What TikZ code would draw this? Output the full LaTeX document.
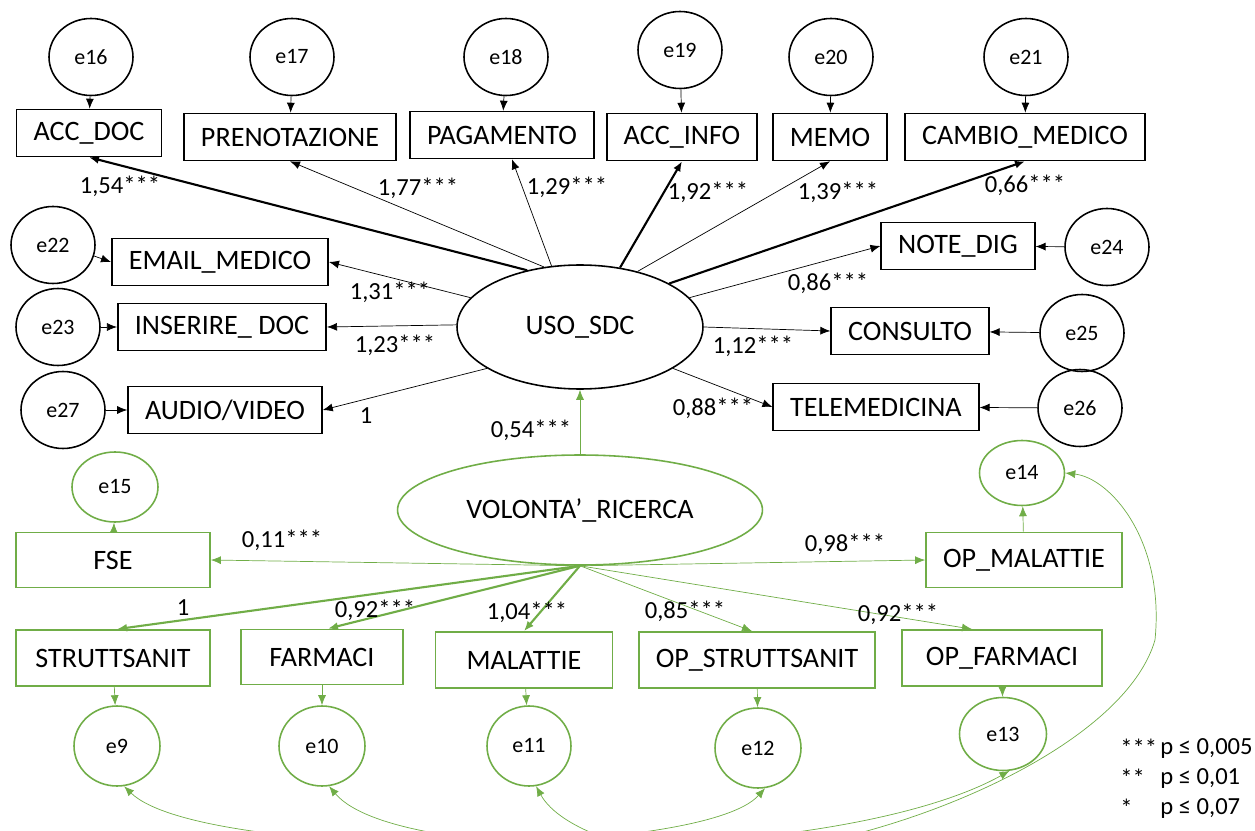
\documentclass[tikz,border=0pt]{standalone}
\usepackage{fontspec}
\setmainfont{Carlito}
\usetikzlibrary{arrows.meta,shapes.geometric}
\definecolor{grn}{RGB}{112,173,71}
\begin{document}
\begin{tikzpicture}[x=0.02cm,y=-0.02cm,
    >={Latex[length=2mm,width=1.6mm]}]
  \tikzstyle{var}=[draw,line width=0.9pt,inner xsep=0.34cm,minimum height=0.94cm,font=\fontsize{16}{18}\selectfont]
  \tikzstyle{err}=[draw,ellipse,line width=0.9pt,minimum width=1.68cm,minimum height=1.54cm,inner sep=0pt,font=\fontsize{12.5}{14}\selectfont]
  \tikzstyle{lat}=[draw,ellipse,line width=0.9pt,inner sep=0pt,font=\fontsize{16}{18}\selectfont]
  \tikzstyle{coef}=[font=\fontsize{14}{16}\selectfont,inner sep=0pt]
  \tikzstyle{loading}=[->,line width=0.4pt]
  \tikzstyle{loadingb}=[->,line width=1.2pt]
  \useasboundingbox (0,0) rectangle (1255,831);
  \clip (0,0) rectangle (1255,831);
  \node[lat,minimum width=4.92cm,minimum height=2.48cm] (uso) at (580,327) {USO\_SDC};
  \node[var] (accdoc) at (89,133) {ACC\_DOC};
  \node[var] (prenot) at (290,137) {PRENOTAZIONE};
  \node[var] (pagam) at (502,135) {PAGAMENTO};
  \node[var] (accinfo) at (682,137) {ACC\_INFO};
  \node[var] (memo) at (830,137) {MEMO};
  \node[var] (cambio) at (1025,137) {CAMBIO\_MEDICO};
  \node[var] (email) at (220,262) {EMAIL\_MEDICO};
  \node[var] (inser) at (222,327) {INSERIRE\_ DOC};
  \node[var] (audio) at (225,410) {AUDIO/VIDEO};
  \node[var] (notedig) at (958,246) {NOTE\_DIG};
  \node[var] (consulto) at (910,331) {CONSULTO};
  \node[var] (tele) at (876,407) {TELEMEDICINA};
  \node[err] (e16) at (91,57) {e16};
  \node[err] (e17) at (292,57) {e17};
  \node[err] (e18) at (506,57) {e18};
  \node[err] (e19) at (680,50) {e19};
  \node[err] (e20) at (831,57) {e20};
  \node[err] (e21) at (1026,57) {e21};
  \node[err] (e22) at (53,245) {e22};
  \node[err] (e23) at (58,327) {e23};
  \node[err] (e27) at (63,410) {e27};
  \node[err] (e24) at (1107,247) {e24};
  \node[err] (e25) at (1082,333) {e25};
  \node[err] (e26) at (1080,408) {e26};
  \draw[loading] (e16) -- (accdoc);
  \draw[loading] (e17) -- (prenot);
  \draw[loading] (e18) -- (pagam);
  \draw[loading] (e19) -- (accinfo);
  \draw[loading] (e20) -- (memo);
  \draw[loading] (e21) -- (cambio);
  \draw[loading] (e22.-15) -- (email.west);
  \draw[loading] (e23) -- (inser);
  \draw[loading] (e27) -- (audio);
  \draw[loading] (e24) -- (notedig);
  \draw[loading] (e25) -- (consulto);
  \draw[loading] (e26) -- (tele);
  \draw[loadingb] (uso.133) -- (accdoc.south);
  \draw[loading] (uso.121) -- (prenot.south);
  \draw[loading] (uso.115) -- ([xshift=0.2cm]pagam.south);
  \draw[loadingb] (uso.56) -- (accinfo.south);
  \draw[loading] (uso.44) -- (memo.south);
  \draw[loadingb] (uso.26) -- (cambio.south);
  \draw[loading] (uso.15) -- (notedig.west);
  \draw[loading] (uso.0) -- (consulto.west);
  \draw[loading] (uso.-24) -- (tele.west);
  \draw[loading] (uso.165) -- (email.east);
  \draw[loading] (uso.179) -- (inser.east);
  \draw[loading] (uso.204) -- (audio.east);
  \node[coef] (c1) at (120,186) {1,54***};
  \node[coef] (c2) at (418,188) {1,77***};
  \node[coef] (c3) at (567,187) {1,29***};
  \node[coef] (c4) at (708,192) {1,92***};
  \node[coef] (c5) at (838,192) {1,39***};
  \node[coef] (c6) at (1025,185) {0,66***};
  \node[coef] (c7) at (828,283) {0,86***};
  \node[coef] (c8) at (753,346) {1,12***};
  \node[coef] (c9) at (713,408) {0,88***};
  \node[coef] (c10) at (390,292) {1,31***};
  \node[coef] (c11) at (395,345) {1,23***};
  \node[coef] (c12) at (366,416) {1};
  \begin{scope}[draw=grn,color=grn]
    \node[lat,minimum width=7.3cm,minimum height=2.2cm,text=black] (volonta) at (580,510) {VOLONTA’\_RICERCA};
    \node[var,text=black,line width=1pt,minimum width=3.88cm,minimum height=1.1cm] (fse) at (113,560) {FSE};
    \node[var,text=black,line width=1pt,minimum width=3.82cm,minimum height=1.1cm] (opmal) at (1024,560) {OP\_MALATTIE};
    \node[var,text=black,line width=1pt,minimum width=3.88cm,minimum height=1.12cm] (strutt) at (113,658) {STRUTTSANIT};
    \node[var,text=black,line width=1pt,minimum width=3.24cm,minimum height=1.1cm] (farm) at (322,657) {FARMACI};
    \node[var,text=black,line width=1pt,minimum width=3.54cm,minimum height=1.12cm] (malat) at (524,660) {MALATTIE};
    \node[var,text=black,line width=1pt,minimum width=4.64cm,minimum height=1.12cm] (opstrutt) at (757,660) {OP\_STRUTTSANIT};
    \node[var,text=black,line width=1pt,minimum width=4.0cm,minimum height=1.12cm] (opfarm) at (1002,658) {OP\_FARMACI};
    \node[err,text=black,minimum width=1.72cm,minimum height=1.4cm] (e15) at (115,487) {e15};
    \node[err,text=black,minimum width=1.7cm,minimum height=1.3cm] (e14) at (1022,473) {e14};
    \node[err,text=black,minimum width=1.72cm,minimum height=1.6cm] (e9) at (117,746) {e9};
    \node[err,text=black,minimum width=1.72cm,minimum height=1.6cm] (e10) at (322,746) {e10};
    \node[err,text=black,minimum width=1.68cm,minimum height=1.6cm] (e11) at (529,746) {e11};
    \node[err,text=black,minimum width=1.72cm,minimum height=1.6cm] (e12) at (758,748) {e12};
    \node[err,text=black,minimum width=1.74cm,minimum height=1.46cm] (e13) at (1003,734) {e13};
    \draw[loading] (volonta) -- (uso);
    \draw[loading] (volonta.south) -- (fse.east);
    \draw[loading] (volonta.south) -- (opmal.west);
    \draw[loadingb] (volonta.south) -- ([xshift=0.08cm]strutt.north);
    \draw[loadingb] (volonta.south) -- ([xshift=0.12cm]farm.north);
    \draw[loadingb] (volonta.south) -- (malat.north);
    \draw[loading] (volonta.south) -- ([xshift=-0.1cm]opstrutt.north);
    \draw[loading] (volonta.south) -- ([xshift=-0.6cm]opfarm.north);
    \draw[loading] (fse) -- (e15);
    \draw[loading] (opmal) -- (e14);
    \draw[loading] (strutt) -- (e9);
    \draw[loading] (farm) -- (e10);
    \draw[loading] (malat) -- (e11);
    \draw[loading] (opstrutt) -- (e12);
    \draw[loading] (opfarm) -- (e13);
    \draw[<->,line width=0.4pt] (e9.-80) .. controls (200,860) and (700,860) .. (e12.-80);
    \draw[<->,line width=0.4pt] (e10.-80) .. controls (400,870) and (850,860) .. (e13.-80);
    \draw[<->,line width=0.4pt] (e11.-80) .. controls (560,830) and (640,855) .. (700,855)
      .. controls (850,860) and (1120,760) .. (1155,640)
      .. controls (1165,540) and (1110,478) .. (e14.east);
  \end{scope}
  \node[coef] (c13) at (531,430) {0,54***};
  \node[coef] (c14) at (282,540) {0,11***};
  \node[coef] (c15) at (845,544) {0,98***};
  \node[coef] (c16) at (183,608) {1};
  \node[coef] (c17) at (375,610) {0,92***};
  \node[coef] (c18) at (527,612) {1,04***};
  \node[coef] (c19) at (685,611) {0,85***};
  \node[coef] (c20) at (898,614) {0,92***};
  \node[coef,anchor=west] (s3) at (1120,748) {***};
  \node[coef,anchor=west] (p3) at (1160,748) {p ≤ 0,005};
  \node[coef,anchor=west] (s2) at (1120,778) {**};
  \node[coef,anchor=west] (p2) at (1160,778) {p ≤ 0,01};
  \node[coef,anchor=west] (s1) at (1120,808) {*};
  \node[coef,anchor=west] (p1) at (1160,808) {p ≤ 0,07};
\end{tikzpicture}
\end{document}
